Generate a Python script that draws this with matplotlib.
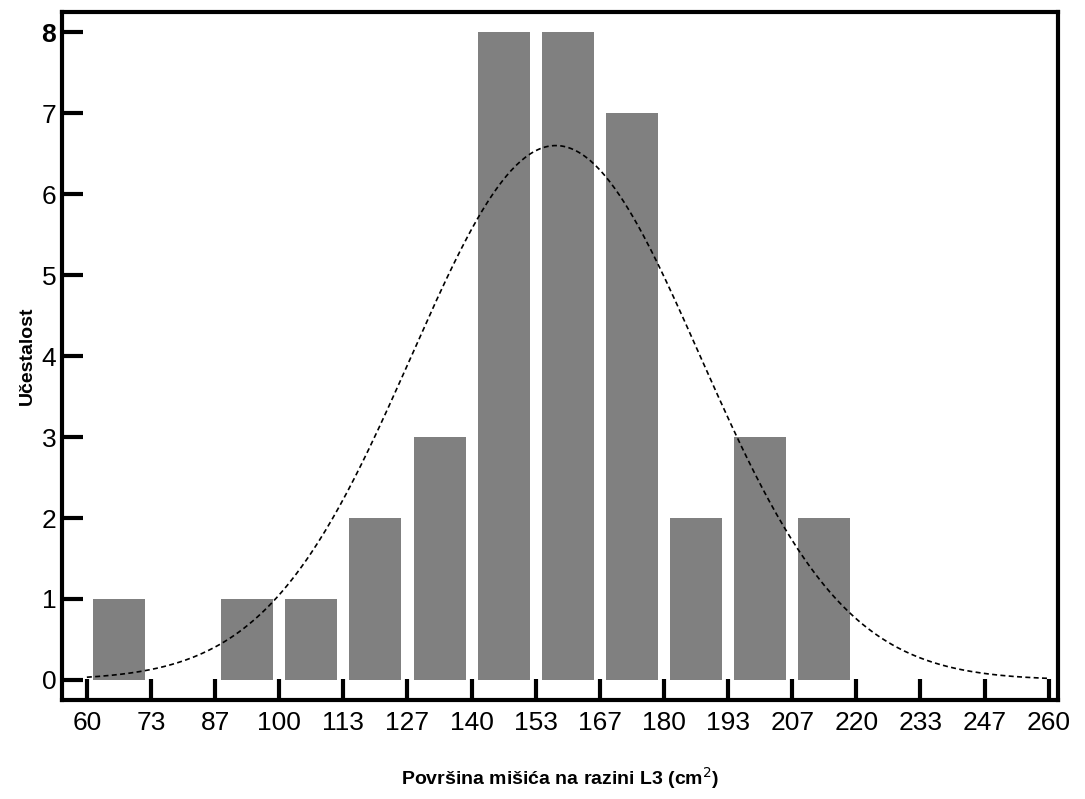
import matplotlib.pyplot as plt
import numpy as np

plt.rcParams['font.family'] = ['Liberation Sans', 'DejaVu Sans']

bin_edges = [60, 73.33, 86.67, 100, 113.33, 126.67, 140, 153.33, 166.67, 180, 193.33, 206.67, 220]
counts = [1, 0, 1, 1, 2, 3, 8, 8, 7, 2, 3, 2]
tick_labels = ['60', '73', '87', '100', '113', '127', '140', '153', '167', '180',
               '193', '207', '220', '233', '247', '260']
curve_mean = 157.5
curve_sd = 30.0
curve_peak = 6.6

fig = plt.figure(figsize=(10.85, 7.99), dpi=100)
ax = fig.add_axes([0.057, 0.124, 0.918, 0.861])

width = 13.333
lefts = np.array(bin_edges[:-1])
ax.bar(lefts + width / 2, counts, width=width * 0.81, color='#808080', zorder=2)

xs = np.linspace(60, 260, 400)
ys = curve_peak * np.exp(-0.5 * ((xs - curve_mean) / curve_sd) ** 2)
ax.plot(xs, ys, color='black', ls='--', lw=1.2, dashes=(3, 2), zorder=3)

ax.set_xlim(54.8, 261.9)
ax.set_ylim(-0.247, 8.25)
ticks = np.linspace(60, 260, 16)
ax.set_xticks(ticks)
ax.set_xticklabels(tick_labels, fontsize=19)
ax.set_yticks(range(9))
ax.set_yticklabels([str(i) for i in range(9)], fontsize=19)
ax.get_yticklabels()[-1].set_fontweight('bold')
ax.tick_params(direction='in', length=15, width=3, pad=8)
ax.tick_params(axis='y', pad=4)
for s in ax.spines.values():
    s.set_linewidth(3)

ax.set_xlabel('Površina mišića na razini L3 (cm$^2$)', fontsize=14, fontweight='bold', labelpad=22)
ax.set_ylabel('Učestalost', fontsize=14, fontweight='bold', labelpad=4)

fig.savefig('out.png', dpi=100)
